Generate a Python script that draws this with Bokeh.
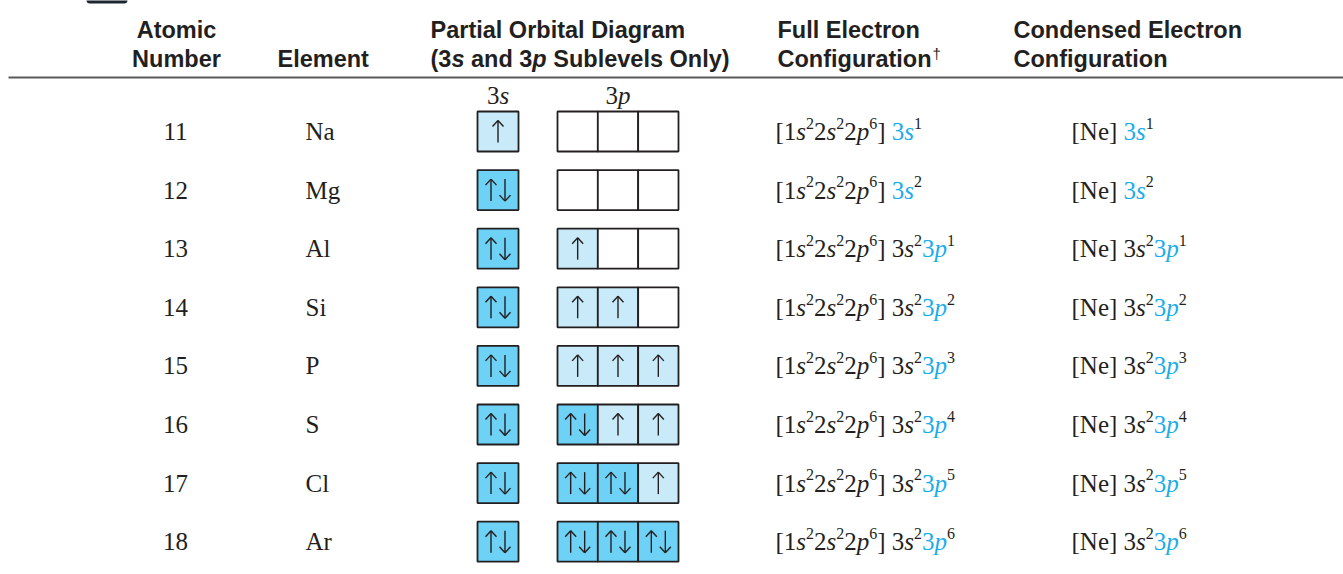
from bokeh.plotting import figure
from bokeh.models import Range1d, ColumnDataSource
from bokeh.core.properties import value
from bokeh.embed import file_html
from bokeh.resources import INLINE

# ---------------- data ----------------
atomic_numbers = [11, 12, 13, 14, 15, 16, 17, 18]
elements = ["Na", "Mg", "Al", "Si", "P", "S", "Cl", "Ar"]
electrons_3s = [1, 2, 2, 2, 2, 2, 2, 2]
electrons_3p = [0, 0, 1, 2, 3, 4, 5, 6]
header_atomic = ["Atomic", "Number"]
header_element = "Element"
header_partial = "Partial Orbital Diagram"
header_partial2 = [("(3", "bold"), ("s", "bold italic"), (" and 3", "bold"), ("p", "bold italic"),
                   (" Sublevels Only)", "bold")]
header_full = ["Full Electron", "Configuration"]
header_condensed = ["Condensed Electron", "Configuration"]
full_prefix = [("[", "r"), ("1", "r"), ("s", "i"), ("2", "sup"), ("2", "r"), ("s", "i"),
               ("2", "sup"), ("2", "r"), ("p", "i"), ("6", "sup"), ("]", "r"), (" ", "r")]
condensed_prefix = [("[Ne]", "r"), (" ", "r")]

# ---------------- styling / layout ----------------
W, H = 1343, 574
X0, Y0 = 0, 0
INK = "#231f20"
CYAN = "#1badea"
DARK = "#6dd2f6"
LIGHT = "#c8eaf9"
SERIF = "Liberation Serif"
SANS = "Liberation Sans"
BODY = 25
SUP = 16
SUP_RAISE = 11
HEAD = 23.5
BASE_FIX = 0.32   # renderer places alphabetic baseline this many em too low

ROW0, ROW_STEP = 131.0, 58.6
BOX_H = 40.0
S_LEFT, S_W = 477.0, 41.0
P_LEFT, P_W = 557.0, 40.33

X_NUM, X_EL, X_FULL, X_COND = 175, 305, 775, 1071

# Times (Liberation Serif) advance widths /1000
TR = {'[': 333, ']': 333, ' ': 250, 'N': 722, 'e': 444}
TI = {'s': 389, 'p': 500}
for d in "0123456789":
    TR[d] = 500
    TI[d] = 500
# Arial bold (Liberation Sans Bold) widths /1000
AB = {'(': 333, ')': 333, '3': 556, 's': 556, ' ': 278, 'a': 556, 'n': 611, 'd': 611,
      'p': 611, 'S': 667, 'u': 611, 'b': 611, 'l': 278, 'e': 556, 'v': 556, 'O': 778,
      'y': 556, 'C': 722, 'o': 611, 'f': 333, 'i': 278, 'g': 611, 'r': 389, 't': 333}

runs = []


def add(x, y, text, font, size, style, color, align="left"):
    # SVG collapses leading/trailing blanks: advance x for them instead
    if align == "left":
        lead = len(text) - len(text.lstrip(" "))
        table = AB if font == SANS else TR
        x += lead * table[' '] * size / 1000
        text = text.strip(" ")
    if text:
        runs.append(dict(x=x, y=y - BASE_FIX * size, text=text, font=font, size=size,
                         style=style, color=color, align=align))


def rich(x, base, segs):
    """segs: list of (text, kind, color) where kind in r/i/sup"""
    for text, kind, color in segs:
        if kind == "sup":
            add(x, base - SUP_RAISE, text, SERIF, SUP, "normal", color)
            x += sum(TR[c] for c in text) * SUP / 1000
        else:
            table = TR if kind == "r" else TI
            add(x, base, text, SERIF, BODY, "normal" if kind == "r" else "italic", color)
            x += sum(table[c] for c in text) * BODY / 1000
    return x


p = figure(width=W, height=H, x_range=Range1d(X0, X0 + W), y_range=Range1d(Y0 + H, Y0),
           output_backend="svg", toolbar_location=None, min_border=0,
           x_axis_location=None, y_axis_location=None)
p.grid.visible = False
p.outline_line_color = None
p.background_fill_color = "white"
p.border_fill_color = "white"

# decorative tab at the top-left edge
p.quad(left=[86], right=[127], top=[-4], bottom=[3], fill_color="#1c2631", line_color=None,
       border_radius=4)

# ---------------- header ----------------
HB1, HB2 = 37, 66
add(176, HB1, header_atomic[0], SANS, HEAD, "bold", INK, "center")
add(176, HB2, header_atomic[1], SANS, HEAD, "bold", INK, "center")
add(277, HB2, header_element, SANS, HEAD, "bold", INK)
add(430, HB1, header_partial, SANS, HEAD, "bold", INK)
x = 430
for text, st in header_partial2:
    add(x, HB2, text, SANS, HEAD, st, INK)
    x += sum(AB[c] for c in text) * HEAD / 1000
add(777, HB1, header_full[0], SANS, HEAD, "bold", INK)
add(777, HB2, header_full[1], SANS, HEAD, "bold", INK)
xd = 777 + sum(AB[c] for c in header_full[1]) * HEAD / 1000 + 1
add(xd, HB2 - 8, "\u2020", SANS, 15, "normal", INK)
add(1013, HB1, header_condensed[0], SANS, HEAD, "bold", INK)
add(1013, HB2, header_condensed[1], SANS, HEAD, "bold", INK)

p.segment(x0=[8], y0=[77], x1=[X0 + W], y1=[77], line_color="#58595b", line_width=2)

# sublevel labels
LB = 103
s_mid = S_LEFT + S_W / 2
p_mid = P_LEFT + 1.5 * P_W
wl = (TR['3'] + TI['s']) * BODY / 1000
rich(s_mid - wl / 2, LB, [("3", "r", INK), ("s", "i", INK)])
wl = (TR['3'] + TI['p']) * BODY / 1000
rich(p_mid - wl / 2, LB, [("3", "r", INK), ("p", "i", INK)])

# ---------------- rows ----------------
box = dict(left=[], right=[], top=[], bottom=[], fill=[])
seg = dict(x0=[], y0=[], x1=[], y1=[])
ARM, HEAD_W, HEAD_L, PAIR = 11, 5.5, 6, 7


def arrow(xc, yc, up):
    seg["x0"].append(xc); seg["y0"].append(yc + ARM); seg["x1"].append(xc); seg["y1"].append(yc - ARM)
    tip = yc - ARM if up else yc + ARM
    back = tip + HEAD_L if up else tip - HEAD_L
    for dx in (-HEAD_W, HEAD_W):
        seg["x0"].append(xc); seg["y0"].append(tip); seg["x1"].append(xc + dx); seg["y1"].append(back)


def orbital(left, width, yc, n):
    box["left"].append(left); box["right"].append(left + width)
    box["top"].append(yc - BOX_H / 2); box["bottom"].append(yc + BOX_H / 2)
    box["fill"].append(DARK if n == 2 else (LIGHT if n == 1 else "white"))
    xc = left + width / 2
    if n == 1:
        arrow(xc, yc, True)
    elif n == 2:
        arrow(xc - PAIR, yc, True)
        arrow(xc + PAIR, yc, False)


for i, (z, el, ns, np_) in enumerate(zip(atomic_numbers, elements, electrons_3s, electrons_3p)):
    yc = ROW0 + i * ROW_STEP
    base = yc + 8
    add(X_NUM, base, str(z), SERIF, BODY, "normal", INK, "center")
    add(X_EL, base, el, SERIF, BODY, "normal", INK)
    orbital(S_LEFT, S_W, yc, ns)
    for k in range(3):
        if np_ <= 3:
            n = 1 if k < np_ else 0
        else:
            n = 2 if k < np_ - 3 else 1
        orbital(P_LEFT + k * P_W, P_W, yc, n)
    if np_ == 0:
        tail = [("3", "r", CYAN), ("s", "i", CYAN), (str(ns), "sup", INK)]
    else:
        tail = [("3", "r", INK), ("s", "i", INK), (str(ns), "sup", INK),
                ("3", "r", CYAN), ("p", "i", CYAN), (str(np_), "sup", INK)]
    rich(X_FULL, base, [(t, k, INK) for t, k in full_prefix] + tail)
    rich(X_COND, base, [(t, k, INK) for t, k in condensed_prefix] + tail)

p.quad(left="left", right="right", top="top", bottom="bottom", fill_color="fill",
       line_color=INK, line_width=1.8, source=ColumnDataSource(box))
p.segment(x0="x0", y0="y0", x1="x1", y1="y1", line_color=INK, line_width=1.4,
          source=ColumnDataSource(seg))

# ---------------- text rendering grouped by style ----------------
groups = {}
for r in runs:
    key = (r["font"], r["size"], r["style"], r["color"], r["align"])
    groups.setdefault(key, dict(x=[], y=[], text=[]))
    g = groups[key]
    g["x"].append(r["x"]); g["y"].append(r["y"]); g["text"].append(r["text"])

for (font, size, style, color, align), g in groups.items():
    p.text(x="x", y="y", text="text", source=ColumnDataSource(g),
           text_font=value(font), text_font_size=f"{size}px", text_font_style=style,
           text_color=color, text_align=align, text_baseline="alphabetic")

open("out.html", "w").write(file_html(p, INLINE))
